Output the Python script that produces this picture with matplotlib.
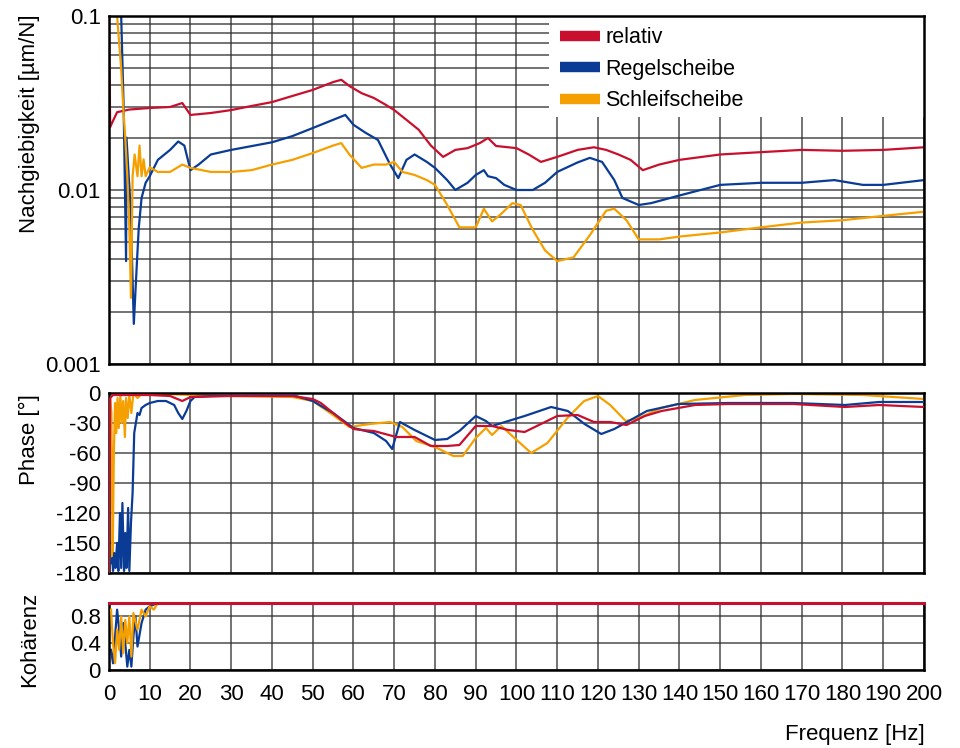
import matplotlib
matplotlib.use("Agg")
import matplotlib.pyplot as plt
from matplotlib.patches import Rectangle
from matplotlib.ticker import LogLocator, NullFormatter

plt.rcParams['font.family'] = ['Liberation Sans', 'DejaVu Sans']
plt.rcParams['axes.unicode_minus'] = False

# Farben
c_rel = '#c8102e'
c_reg = '#0a3c96'
c_sch = '#f5a000'

# ---------------- Nachgiebigkeit (log) ----------------
f_mag_rel = [0, 0.3, 1, 2, 5, 10, 15, 18, 20, 25, 30, 35, 40, 45, 50, 55, 57, 59, 62, 65, 68,
             70, 73, 76, 79, 82, 85, 88, 91, 93, 95, 100, 103, 106, 110, 115, 119, 122, 125,
             128, 131, 135, 140, 150, 160, 170, 180, 190, 200]
mag_rel = [0.1, 0.023, 0.025, 0.028, 0.029, 0.0296, 0.030, 0.0316, 0.027, 0.0277, 0.0288,
           0.0304, 0.032, 0.0347, 0.0376, 0.0417, 0.043, 0.0396, 0.036, 0.0338, 0.0308,
           0.0288, 0.0253, 0.0222, 0.018, 0.0155, 0.017, 0.0174, 0.0186, 0.0199, 0.0179,
           0.0174, 0.016, 0.0145, 0.0155, 0.017, 0.0176, 0.017, 0.016, 0.0149, 0.0130,
           0.014, 0.0149, 0.016, 0.0165, 0.017, 0.0168, 0.017, 0.0176]

f_mag_reg = [3, 3.6, 4.2, 4.3, 5.3, 6.1, 6.9, 7.3, 8, 9, 10, 12, 15, 17, 18.5, 20, 22, 25, 30,
             40, 45, 50, 55, 58, 60, 63, 66, 69, 71, 73, 75, 78, 80, 83, 85, 88, 90, 92, 93,
             95, 97, 100, 104, 107, 110, 115, 118, 121, 124, 126, 130, 133, 140, 150, 160,
             170, 178, 185, 190, 200]
mag_reg = [0.1, 0.03, 0.0039, 0.02, 0.008, 0.0017, 0.004, 0.006, 0.009, 0.011, 0.012, 0.0149,
           0.017, 0.019, 0.018, 0.013, 0.014, 0.016, 0.017, 0.0188, 0.0204, 0.0227, 0.0253,
           0.027, 0.0237, 0.0213, 0.0194, 0.014, 0.0117, 0.0149, 0.016, 0.0145, 0.0134,
           0.0114, 0.010, 0.011, 0.0122, 0.013, 0.012, 0.0117, 0.0107, 0.010, 0.010, 0.011,
           0.0127, 0.0144, 0.0153, 0.0145, 0.0114, 0.009, 0.0082, 0.0084, 0.0093, 0.0107,
           0.011, 0.011, 0.0114, 0.0107, 0.0107, 0.0114]

f_mag_sch = [1.5, 2, 2.5, 3, 3.5, 4, 4.5, 5, 5.4, 5.8, 6.3, 7, 7.5, 8, 8.5, 9, 10, 12, 15, 18,
             20, 25, 30, 35, 40, 45, 50, 55, 57, 59, 62, 65, 68, 70, 72, 75, 78, 80, 83, 86,
             90, 92, 94, 96, 99, 101, 104, 107, 110, 114, 118, 122, 124, 127, 130, 135, 140,
             150, 160, 170, 180, 190, 200]
mag_sch = [0.1, 0.1, 0.07, 0.05, 0.03, 0.02, 0.012, 0.006, 0.0024, 0.012, 0.016, 0.012, 0.018,
           0.012, 0.015, 0.012, 0.0135, 0.0127, 0.0127, 0.014, 0.0134, 0.0127, 0.0127, 0.013,
           0.014, 0.0149, 0.0163, 0.018, 0.0186, 0.016, 0.0134, 0.014, 0.014, 0.0145, 0.0127,
           0.0122, 0.0114, 0.0107, 0.0082, 0.0061, 0.0061, 0.0078, 0.0066, 0.0072, 0.0084,
           0.0082, 0.0059, 0.0045, 0.0039, 0.0041, 0.0055, 0.0076, 0.0078, 0.0067, 0.0052,
           0.0052, 0.0054, 0.0057, 0.0061, 0.0065, 0.0067, 0.0071, 0.0075]

# ---------------- Phase ----------------
f_ph_rel = [0, 0.3, 1, 5, 10, 15, 18, 20, 30, 45, 50, 52, 55, 58, 60, 62, 65, 70.5, 75, 79,
            83, 86, 90, 94, 98, 102, 106, 110, 115, 119, 123, 127, 131.5, 135.6, 139.7,
            143.8, 152, 168, 180.6, 189, 200]
ph_rel = [-180, -5, -2, -2, -2, -3, -8, -4, -3, -3, -6, -10, -20, -30, -36, -37, -38, -44,
          -44, -53, -53, -52, -33, -33, -37, -39, -31, -23, -22, -29, -29, -32, -23, -18,
          -15, -12, -11, -11, -14, -12, -14]

f_ph_reg = [0.5, 0.8, 1, 1.3, 1.6, 2, 2.3, 2.7, 3, 3.3, 3.7, 4, 4.3, 4.7, 5, 5.4, 5.8, 6.2,
            6.6, 7, 7.5, 8, 9, 10, 12, 14, 16, 17, 18, 19, 20, 21, 25, 45, 50, 55, 60, 65,
            68, 69.5, 71.4, 75, 80, 83, 86, 90, 92.5, 94, 98, 102, 108.5, 112.6, 116.7,
            120.8, 124, 128, 132, 139.7, 152, 168, 180.6, 189, 200]
ph_reg = [-170, -165, -178, -160, -175, -150, -178, -120, -175, -110, -178, -140, -175,
          -115, -178, -130, -100, -40, -30, -20, -22, -15, -12, -10, -8, -8, -12, -20, -26,
          -18, -8, -4, -3, -2, -8, -20, -35, -40, -48, -56, -29, -37, -47, -46, -38, -23,
          -28, -33, -28, -23, -14, -18, -31, -41, -36, -27, -18, -11, -10, -10, -12, -9, -9]

f_ph_sch = [0.3, 0.6, 0.9, 1.2, 1.5, 1.8, 2.1, 2.4, 2.8, 3.1, 3.5, 3.9, 4.2, 4.6, 5, 5.5, 6,
            7, 8, 10, 13, 20, 30, 45, 50, 55, 59, 64, 69, 72, 75.4, 80, 84.5, 86.8, 90, 92.5,
            94, 96.3, 99.5, 103.6, 107.6, 112.5, 116.6, 120, 123, 126.8, 130, 135.6, 143.8,
            156, 168, 185, 200]
ph_sch = [-5, -20, -170, -60, -10, -40, -5, -35, -2, -30, -8, -44, -5, -25, -2, -20, 0, -5,
          -1, 0, -1, -2, -3, -4, -8, -22, -34, -31, -29, -34, -48, -54, -63, -63, -45, -35,
          -42, -33, -45, -60, -50, -25, -8, -3, -12, -28, -25, -15, -7, -2, -1, -2, -6]

# ---------------- Kohärenz ----------------
f_coh_rel = [0, 200]
coh_rel = [1.0, 1.0]

f_coh_reg = [0.5, 1, 1.5, 2, 2.5, 3, 3.5, 4, 4.5, 5, 5.5, 6, 6.5, 7, 8, 9, 10, 12, 200]
coh_reg = [0.3, 0.1, 0.5, 0.9, 0.6, 0.2, 0.7, 0.4, 0.05, 0.3, 0.05, 0.5, 0.8, 0.35, 0.7,
           0.9, 0.95, 1.0, 1.0]

f_coh_sch = [0.5, 1, 1.5, 2, 2.5, 3, 3.5, 4, 4.5, 5, 5.5, 6, 7, 8, 9, 10, 11, 12, 200]
coh_sch = [0.9, 0.4, 0.1, 0.6, 0.3, 0.8, 0.25, 0.75, 0.4, 0.8, 0.2, 0.85, 0.6, 0.9, 0.8,
           0.95, 0.9, 1.0, 1.0]

x_ticks = list(range(0, 201, 10))

fig = plt.figure(figsize=(9.6, 7.48), dpi=100)
ax1 = fig.add_axes([0.1135, 0.5134, 0.849, 0.4652])
ax2 = fig.add_axes([0.1135, 0.2340, 0.849, 0.2406])
ax3 = fig.add_axes([0.1135, 0.1043, 0.849, 0.0896])

lw = 1.6
grid_c = '#2e2e2e'

for ax in (ax1, ax2, ax3):
    ax.set_xlim(0, 200)
    ax.set_xticks(x_ticks)
    ax.grid(True, axis='x', color=grid_c, lw=1.1, alpha=0.85)
    ax.tick_params(length=0, labelsize=16, pad=6)
    for sp in ax.spines.values():
        sp.set_linewidth(1.8)
        sp.set_color('black')
    ax.set_axisbelow(True)

# oben: Nachgiebigkeit
ax1.plot(f_mag_rel, mag_rel, color=c_rel, lw=lw, label='relativ')
ax1.plot(f_mag_reg, mag_reg, color=c_reg, lw=lw, label='Regelscheibe')
ax1.plot(f_mag_sch, mag_sch, color=c_sch, lw=lw, label='Schleifscheibe')
ax1.set_yscale('log')
ax1.set_ylim(0.001, 0.1)
ax1.set_yticks([0.001, 0.01, 0.1])
ax1.set_yticklabels(['0.001', '0.01', '0.1'])
ax1.yaxis.set_minor_locator(LogLocator(base=10, subs=range(2, 10)))
ax1.yaxis.set_minor_formatter(NullFormatter())
ax1.tick_params(which='minor', length=0)
ax1.grid(True, axis='y', which='both', color=grid_c, lw=1.1, alpha=0.85)
ax1.set_xticklabels([])
ax1.set_ylabel('Nachgiebigkeit [µm/N]', fontsize=16)
ax1.yaxis.set_label_coords(-0.085, 0.69)

# weißer Kasten hinter der Legende (oben rechts)
ax1.add_patch(Rectangle((0.54, 0.71), 0.46, 0.29, transform=ax1.transAxes,
                        facecolor='white', edgecolor='none', zorder=1))
leg = ax1.legend(loc='upper left', bbox_to_anchor=(0.54, 1.0), frameon=False,
                 fontsize=15.5, borderaxespad=0, borderpad=0.5, handlelength=1.85,
                 handleheight=0.6, handletextpad=0.25, labelspacing=0.5)
for h in leg.get_lines():
    h.set_linewidth(7.5)
    h.set_solid_capstyle('butt')

# mitte: Phase
ax2.plot(f_ph_rel, ph_rel, color=c_rel, lw=lw, zorder=4)
ax2.plot(f_ph_reg, ph_reg, color=c_reg, lw=lw, zorder=3)
ax2.plot(f_ph_sch, ph_sch, color=c_sch, lw=lw, zorder=2)
ax2.set_ylim(-180, 0)
ax2.set_yticks([0, -30, -60, -90, -120, -150, -180])
ax2.grid(True, axis='y', color=grid_c, lw=1.1, alpha=0.85)
ax2.set_xticklabels([])
ax2.set_ylabel('Phase [°]', fontsize=16)
ax2.yaxis.set_label_coords(-0.085, 0.74)

# unten: Kohärenz
ax3.plot(f_coh_reg, coh_reg, color=c_reg, lw=lw, zorder=2)
ax3.plot(f_coh_sch, coh_sch, color=c_sch, lw=lw, zorder=3)
ax3.plot(f_coh_rel, coh_rel, color=c_rel, lw=2.2, zorder=5, clip_on=False)
ax3.set_ylim(0, 1.0)
ax3.set_yticks([0, 0.4, 0.8])
ax3.set_yticklabels(['0', '0.4', '0.8'])
ax3.grid(True, axis='y', color=grid_c, lw=1.1, alpha=0.85)
ax3.set_xticklabels([str(x) for x in x_ticks])
ax3.tick_params(axis='x', pad=10)
ax3.set_ylabel('Kohärenz', fontsize=16)
ax3.yaxis.set_label_coords(-0.085, 0.45)

fig.text(0.963, 0.004, 'Frequenz [Hz]', fontsize=16, ha='right', va='bottom')

fig.savefig('out.png', dpi=100)
